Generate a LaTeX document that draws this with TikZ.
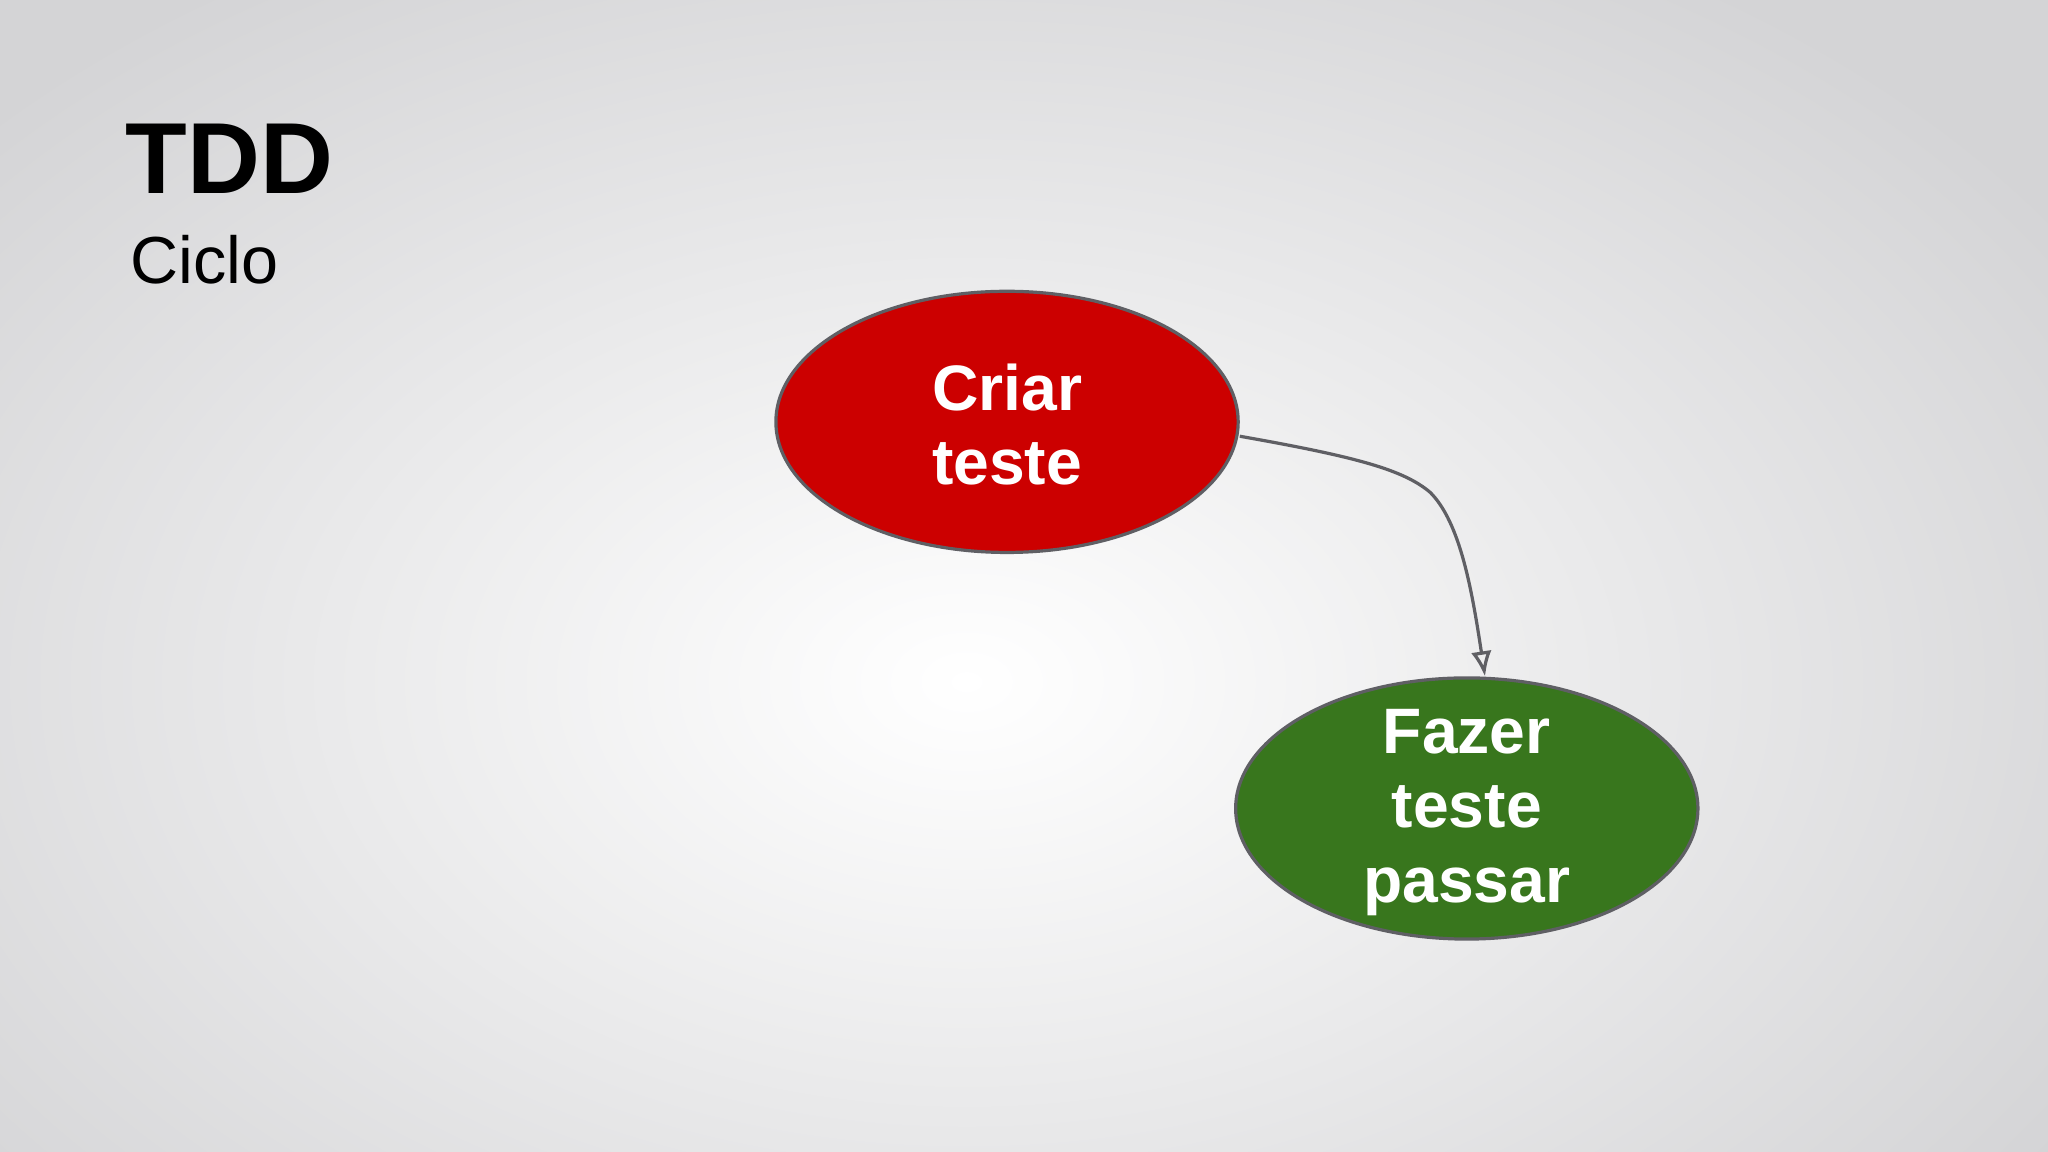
\documentclass[tikz,border=0pt]{standalone}
\usepackage{fontspec}
\setmainfont{Liberation Sans}
\usetikzlibrary{shapes.geometric,arrows.meta}
\definecolor{bgedge}{RGB}{212,212,214}
\definecolor{redfill}{RGB}{204,0,0}
\definecolor{greenfill}{RGB}{56,118,29}
\definecolor{edge}{RGB}{95,95,100}
\tikzset{
  stage/.style={ellipse, draw=edge, line width=1.4pt, minimum width=7.08cm, minimum height=4cm, inner sep=0pt},
  stagetext/.style={text=white, font=\bfseries\fontsize{28}{32.5}\selectfont, align=center, inner sep=0pt},
  conn/.style={draw=edge, line width=1.4pt, -{Latex[length=11pt,width=9pt,open]}}
}
\begin{document}
\begin{tikzpicture}[x=0.02cm,y=0.02cm]
\useasboundingbox (0,0) rectangle (1568,882);
\begin{scope}
\clip (0,0) rectangle (1568,882);
\fill[bgedge] (0,0) rectangle (1568,882);
\shade[inner color=white, outer color=bgedge] (740,360) ellipse (1000 and 650);
\end{scope}
\node[anchor=base west, font=\bfseries\fontsize{44}{48}\selectfont] (title) at (90,734) {TDD};
\node[anchor=base west, font=\fontsize{29}{34}\selectfont] (sub) at (94,665) {Ciclo};
\node[stage, fill=redfill] (a) at (771,559) {};
\node[stagetext] (at) at (771,557) {Criar\\teste};
\node[stage, fill=greenfill] (b) at (1123,263) {};
\node[stagetext] (bt) at (1123,260) {Fazer\\teste\\passar};
\coordinate (e) at (1137,364);
\draw[conn] (a.east) ++(0,-11) coordinate (s) (s) .. controls (1040,532) and (1075,522) .. (1095,505) .. controls (1118,482) and (1127,430) .. (e);
\end{tikzpicture}
\end{document}
